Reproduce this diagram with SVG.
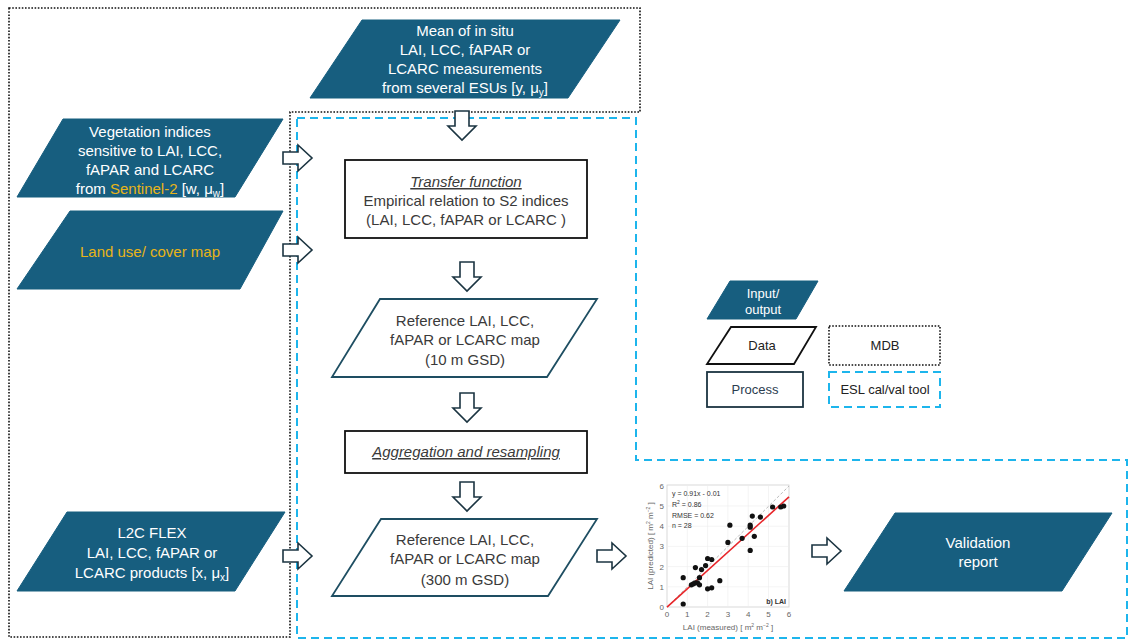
<svg xmlns="http://www.w3.org/2000/svg" width="1130" height="640" viewBox="0 0 1130 640">
<style>
text{font-family:"Liberation Sans",Arial,sans-serif;}
.io{fill:#175E7F;stroke:#175E7F;stroke-width:1;}
.data{fill:#fff;stroke:#1E4E62;stroke-width:1.8;}
.proc{fill:#fff;stroke:#111;stroke-width:1.8;}
.wt{fill:#fff;font-size:15px;text-anchor:middle;}
.dt{fill:#3a3a3a;font-size:15px;text-anchor:middle;}
.gold{fill:#E8B418;}
.ar{fill:#fff;stroke:#1B3441;stroke-width:1.6;stroke-linejoin:miter;}
.mdb{fill:none;stroke:#111;stroke-width:1.6;stroke-dasharray:1.6 1.6;}
.esl{fill:none;stroke:#1DB5EC;stroke-width:2;stroke-dasharray:8 5;}
.tk{fill:#666;font-size:8px;}
.ann{fill:#333;font-size:7px;}
.grid{stroke:#ececec;stroke-width:0.6;}
.lg{font-size:13px;text-anchor:middle;}
</style>
<defs>
<path id="ra" d="M0,-6 H15 V-13 L29,0 L15,13 V6 H0 Z"/>
<path id="da" d="M-7,0 H7 V15 H14 L0,29 L-14,15 H-7 Z"/>
</defs>

<g id="regions">
<path id="mdb-region" class="mdb" d="M9,8 H640 V112 H290 V637 H9 Z"/>
<path id="esl-region" class="esl" d="M297,118 H636 V460 H1127 V638 H297 Z"/>
</g>

<g id="node-insitu">
<polygon class="io" points="362,20 620,20 568,98 310,98"/>
<text class="wt" x="465" y="36">Mean of in situ</text>
<text class="wt" x="465" y="55">LAI, LCC, fAPAR or</text>
<text class="wt" x="465" y="74">LCARC measurements</text>
<text class="wt" x="465" y="93">from several ESUs [y, μ<tspan font-size="10" dy="3">y</tspan><tspan dy="-3">]</tspan></text>
</g>

<g id="node-vi">
<polygon class="io" points="63,119 283,119 235,197 17,197"/>
<text class="wt" x="150" y="137">Vegetation indices</text>
<text class="wt" x="150" y="156">sensitive to LAI, LCC,</text>
<text class="wt" x="150" y="175">fAPAR and LCARC</text>
<text class="wt" x="150" y="194">from <tspan class="gold">Sentinel-2</tspan> [w, μ<tspan font-size="10" dy="3">w</tspan><tspan dy="-3">]</tspan></text>
</g>

<g id="node-landuse">
<polygon class="io" points="70,211 283,211 240,289 17,289"/>
<text class="wt gold" x="150" y="257">Land use/ cover map</text>
</g>

<g id="node-l2c">
<polygon class="io" points="67,512 285,512 235,591 17,591"/>
<text class="wt" x="152" y="538">L2C FLEX</text>
<text class="wt" x="152" y="558">LAI, LCC, fAPAR or</text>
<text class="wt" x="152" y="578">LCARC products [x, μ<tspan font-size="10" dy="3">x</tspan><tspan dy="-3">]</tspan></text>
</g>

<g id="node-transfer">
<rect class="proc" x="345" y="160" width="242" height="78"/>
<text class="dt" x="466" y="187" font-style="italic" text-decoration="underline">Transfer function</text>
<text class="dt" x="466" y="206">Empirical relation to S2 indices</text>
<text class="dt" x="466" y="225">(LAI, LCC, fAPAR or LCARC )</text>
</g>

<g id="node-ref10">
<polygon class="data" points="380,299 597,299 547,377 332,377"/>
<text class="dt" x="465" y="326">Reference LAI, LCC,</text>
<text class="dt" x="465" y="345">fAPAR or LCARC map</text>
<text class="dt" x="465" y="365">(10 m GSD)</text>
</g>

<g id="node-aggr">
<rect class="proc" x="345" y="431" width="242" height="42"/>
<text class="dt" x="466" y="457" font-style="italic" text-decoration="underline">Aggregation and resampling</text>
</g>

<g id="node-ref300">
<polygon class="data" points="381,519 597,519 548,596 332,596"/>
<text class="dt" x="465" y="545">Reference LAI, LCC,</text>
<text class="dt" x="465" y="564">fAPAR or LCARC map</text>
<text class="dt" x="465" y="585">(300 m GSD)</text>
</g>

<g id="node-plot">
<rect x="667" y="485" width="122" height="122" fill="#fff" stroke="#d0d0d0" stroke-width="0.8"/>
<g class="grid">
<line x1="687.3" y1="485" x2="687.3" y2="607"/><line x1="707.6" y1="485" x2="707.6" y2="607"/>
<line x1="727.9" y1="485" x2="727.9" y2="607"/><line x1="748.2" y1="485" x2="748.2" y2="607"/>
<line x1="768.5" y1="485" x2="768.5" y2="607"/>
<line x1="667" y1="586.8" x2="789" y2="586.8"/><line x1="667" y1="566.6" x2="789" y2="566.6"/>
<line x1="667" y1="546.4" x2="789" y2="546.4"/><line x1="667" y1="526.2" x2="789" y2="526.2"/>
<line x1="667" y1="506" x2="789" y2="506"/>
</g>
<line x1="667" y1="607" x2="789" y2="486" stroke="#bbb" stroke-width="1" stroke-dasharray="3 2"/>
<line x1="667" y1="607.2" x2="789" y2="496.9" stroke="#E8262A" stroke-width="1.6"/>
<g fill="#111">
<circle cx="683.2" cy="604" r="2.6"/><circle cx="683.2" cy="577.7" r="2.6"/>
<circle cx="691.4" cy="584.8" r="2.6"/><circle cx="693.4" cy="583.8" r="2.6"/>
<circle cx="695.4" cy="582.8" r="2.6"/><circle cx="695.4" cy="567.6" r="2.6"/>
<circle cx="697.5" cy="582.8" r="2.6"/><circle cx="699.5" cy="584.8" r="2.6"/>
<circle cx="699.5" cy="577.7" r="2.6"/><circle cx="701.5" cy="569.6" r="2.6"/>
<circle cx="705.6" cy="565.6" r="2.6"/><circle cx="707.6" cy="588.8" r="2.6"/>
<circle cx="707.6" cy="558.5" r="2.6"/><circle cx="711.7" cy="559.5" r="2.6"/>
<circle cx="711.7" cy="587.8" r="2.6"/><circle cx="719.8" cy="580.7" r="2.6"/>
<circle cx="727.9" cy="542.4" r="2.6"/><circle cx="729.9" cy="525.2" r="2.6"/>
<circle cx="742.1" cy="538.3" r="2.6"/><circle cx="750.2" cy="550.4" r="2.6"/>
<circle cx="750.2" cy="527.2" r="2.6"/><circle cx="750.2" cy="525.2" r="2.6"/>
<circle cx="752.3" cy="516.1" r="2.6"/><circle cx="754.3" cy="536.3" r="2.6"/>
<circle cx="760.4" cy="517.1" r="2.6"/><circle cx="772.6" cy="507" r="2.6"/>
<circle cx="780.7" cy="507" r="2.6"/><circle cx="783.7" cy="506" r="2.6"/>
</g>
<text class="ann" x="672" y="496">y = 0.91x - 0.01</text>
<text class="ann" x="672" y="507">R<tspan font-size="5" dy="-3">2</tspan><tspan dy="3"> = 0.86</tspan></text>
<text class="ann" x="672" y="518">RMSE = 0.62</text>
<text class="ann" x="672" y="528">n = 28</text>
<text class="ann" x="786" y="604" text-anchor="end" font-weight="bold">b) LAI</text>
<g class="tk" text-anchor="middle">
<text x="667" y="617">0</text><text x="687.3" y="617">1</text><text x="707.6" y="617">2</text>
<text x="727.9" y="617">3</text><text x="748.2" y="617">4</text><text x="768.5" y="617">5</text>
<text x="789" y="617">6</text>
</g>
<g class="tk" text-anchor="end">
<text x="664" y="610">0</text><text x="664" y="589.8">1</text><text x="664" y="569.6">2</text>
<text x="664" y="549.4">3</text><text x="664" y="529.2">4</text><text x="664" y="509">5</text>
<text x="664" y="489">6</text>
</g>
<text class="tk" x="728" y="630" text-anchor="middle">LAI (measured) [ m<tspan font-size="5" dy="-3">2</tspan><tspan dy="3"> m</tspan><tspan font-size="5" dy="-3">−2</tspan><tspan dy="3"> ]</tspan></text>
<text class="tk" transform="translate(653,546) rotate(-90)" text-anchor="middle">LAI (predicted) [ m<tspan font-size="5" dy="-3">2</tspan><tspan dy="3"> m</tspan><tspan font-size="5" dy="-3">−2</tspan><tspan dy="3"> ]</tspan></text>
</g>

<g id="node-validation">
<polygon class="io" points="895,513 1112,513 1062,591 844,591"/>
<text class="wt" x="978" y="548">Validation</text>
<text class="wt" x="978" y="567">report</text>
</g>

<g id="legend">
<g id="legend-io">
<polygon class="io" points="730,281 818,281 796,319 707,319"/>
<text class="lg" x="763" y="298" fill="#fff">Input/</text>
<text class="lg" x="763" y="314" fill="#fff">output</text>
</g>
<g id="legend-data">
<polygon points="731,327 816,327 794,364 707,364" fill="#fff" stroke="#111" stroke-width="1.8"/>
<text class="lg" x="762" y="350" fill="#222">Data</text>
</g>
<g id="legend-process">
<rect x="707" y="372" width="96" height="35" fill="#fff" stroke="#1B3441" stroke-width="1.8"/>
<text class="lg" x="755" y="394" fill="#2b3d4f">Process</text>
</g>
<g id="legend-mdb">
<rect class="mdb" x="829" y="326" width="111" height="39"/>
<text class="lg" x="885" y="350" fill="#222">MDB</text>
</g>
<g id="legend-esl">
<rect class="esl" x="829" y="372" width="111" height="35"/>
<text class="lg" x="885" y="394" fill="#222">ESL cal/val tool</text>
</g>
</g>

<g id="connectors">
<use href="#da" class="ar" x="462" y="111"/>
<use href="#ra" class="ar" x="283" y="158"/>
<use href="#ra" class="ar" x="283" y="250"/>
<use href="#da" class="ar" x="467" y="262"/>
<use href="#da" class="ar" x="467" y="393"/>
<use href="#da" class="ar" x="467" y="482"/>
<use href="#ra" class="ar" x="283" y="556"/>
<use href="#ra" class="ar" x="597" y="556"/>
<use href="#ra" class="ar" x="812" y="551"/>
</g>
</svg>
